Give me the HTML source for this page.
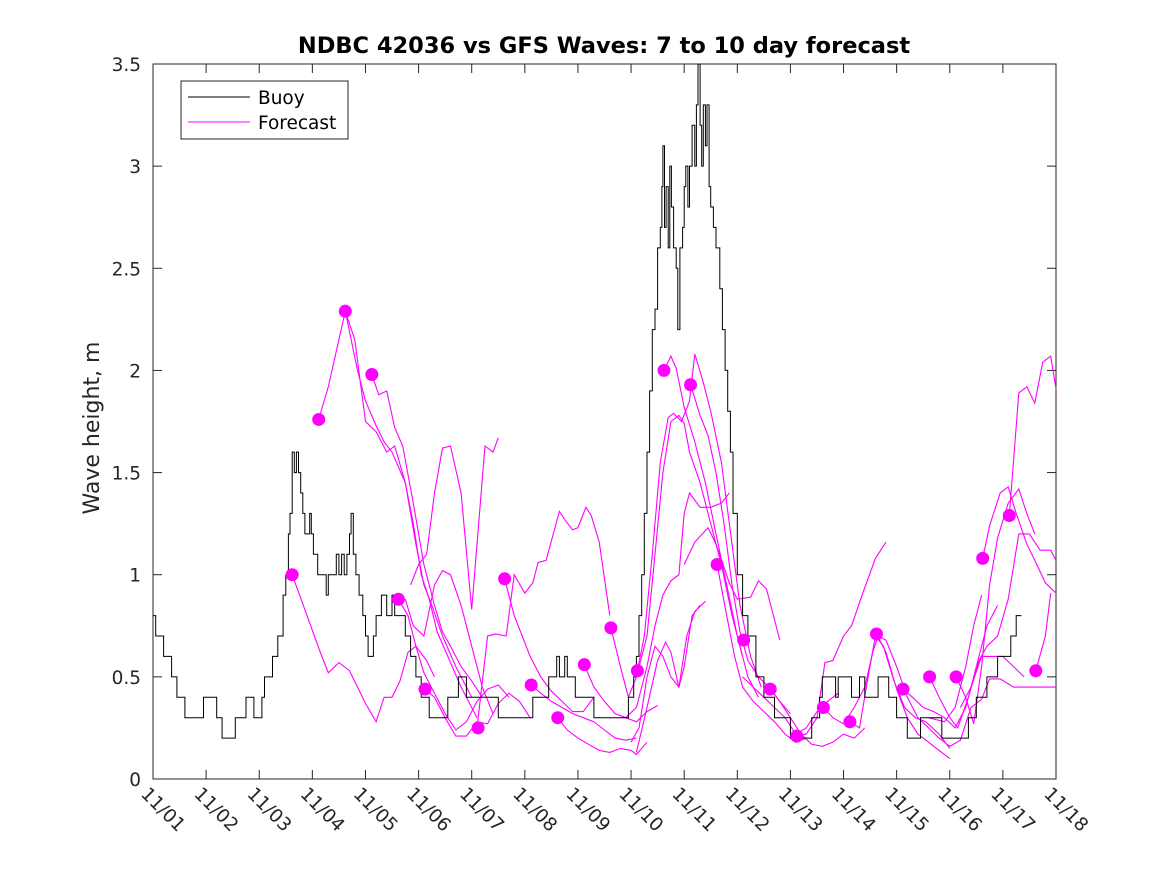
<!DOCTYPE html>
<html><head><meta charset="utf-8"><style>
html,body{margin:0;padding:0;background:#fff;}
svg{display:block;font-family:"DejaVu Sans","Liberation Sans",sans-serif;}
</style></head><body>
<svg id="chart" width="1167" height="875" viewBox="0 0 1167 875" xmlns="http://www.w3.org/2000/svg">
<rect x="0" y="0" width="1167" height="875" fill="#fff"/>
<text x="604" y="53" text-anchor="middle" font-size="22.5" font-weight="bold" fill="#000">NDBC 42036 vs GFS Waves: 7 to 10 day forecast</text>
<text transform="translate(99,428) rotate(-90)" text-anchor="middle" font-size="22" fill="#262626">Wave height, m</text>
<g id="plot"></g>
</svg>
<script>
const xTickLabels = ["11/01","11/02","11/03","11/04","11/05","11/06","11/07","11/08","11/09","11/10","11/11","11/12","11/13","11/14","11/15","11/16","11/17","11/18"];
const yTickValues = [0,0.5,1,1.5,2,2.5,3,3.5];
const yTickLabels = ["0","0.5","1","1.5","2","2.5","3","3.5"];
const buoyDays = [0,0.05,0.2,0.35,0.45,0.55,0.6,0.9,0.95,1.15,1.2,1.3,1.55,1.75,1.9,2.0,2.05,2.1,2.25,2.35,2.45,2.5,2.55,2.58,2.62,2.66,2.7,2.74,2.78,2.82,2.86,2.9,2.95,2.98,3.02,3.1,3.2,3.26,3.3,3.45,3.5,3.55,3.6,3.65,3.7,3.73,3.77,3.82,3.88,3.95,4.0,4.05,4.15,4.2,4.3,4.4,4.5,4.55,4.65,4.75,4.85,4.95,5.05,5.2,5.5,5.55,5.75,5.9,6.3,6.5,7.0,7.15,7.45,7.6,7.65,7.75,7.8,7.95,8.05,8.3,8.9,8.95,9.05,9.1,9.15,9.2,9.25,9.3,9.35,9.4,9.45,9.5,9.55,9.58,9.6,9.63,9.66,9.7,9.73,9.76,9.8,9.85,9.88,9.92,9.97,10.0,10.03,10.07,10.1,10.15,10.2,10.23,10.26,10.3,10.33,10.36,10.4,10.43,10.47,10.5,10.55,10.6,10.67,10.72,10.77,10.82,10.87,10.92,11.0,11.1,11.2,11.35,11.5,11.7,11.9,12.0,12.3,12.4,12.55,12.6,12.85,12.9,13.15,13.3,13.4,13.65,13.85,14.0,14.2,14.45,14.7,14.85,15.2,15.35,15.5,15.7,15.9,16.15,16.25,16.35];
const buoyValues = [0.8,0.7,0.6,0.5,0.4,0.4,0.3,0.3,0.4,0.4,0.3,0.2,0.3,0.4,0.3,0.3,0.4,0.5,0.6,0.7,0.9,1.0,1.2,1.3,1.6,1.5,1.6,1.5,1.4,1.3,1.2,1.2,1.3,1.2,1.1,1.0,1.0,0.9,1.0,1.1,1.0,1.1,1.0,1.1,1.2,1.3,1.1,1.0,0.9,0.8,0.7,0.6,0.7,0.8,0.9,0.8,0.9,0.8,0.8,0.7,0.6,0.5,0.4,0.3,0.3,0.4,0.5,0.4,0.4,0.3,0.3,0.4,0.5,0.6,0.5,0.6,0.5,0.4,0.4,0.3,0.3,0.4,0.5,0.6,0.8,1.0,1.3,1.6,1.9,2.2,2.3,2.6,2.7,2.9,3.1,2.7,2.9,2.6,3.0,2.8,2.6,2.5,2.2,2.6,2.7,2.9,3.0,2.8,3.0,3.2,3.0,3.3,3.5,3.2,3.0,3.3,3.1,3.3,2.9,2.8,2.7,2.6,2.4,2.2,2.0,1.8,1.6,1.3,1.0,0.8,0.7,0.5,0.4,0.3,0.3,0.2,0.2,0.3,0.4,0.5,0.4,0.5,0.4,0.5,0.4,0.5,0.4,0.3,0.2,0.3,0.3,0.2,0.2,0.3,0.4,0.5,0.6,0.7,0.8,0.8];
const dotDays = [2.62,3.12,3.62,4.12,4.62,5.12,6.12,6.62,7.12,7.62,8.12,8.62,9.12,9.62,10.12,10.62,11.12,11.62,12.12,12.62,13.12,13.62,14.12,14.62,15.12,15.62,16.12,16.62];
const dotValues = [1.0,1.76,2.29,1.98,0.88,0.44,0.25,0.98,0.46,0.30,0.56,0.74,0.53,2.0,1.93,1.05,0.68,0.44,0.21,0.35,0.28,0.71,0.44,0.50,0.50,1.08,1.29,0.53];
const fcDays = [
[2.62,2.9,3.15,3.3,3.5,3.7,4.0,4.2,4.35,4.5,4.65,4.8,4.95,5.15,5.3],
[3.12,3.3,3.62,3.8,4.0,4.2,4.4,4.55,4.75,4.95,5.1,5.25,5.45,5.7,6.0],
[3.62,3.85,4.0,4.2,4.35,4.5,4.75,4.9,5.05,5.2,5.35,5.55,5.8,6.1],
[4.12,4.25,4.4,4.55,4.7,4.9,5.1,5.3,5.45,5.6,5.8,6.0,6.2],
[4.85,5.0,5.15,5.3,5.45,5.6,5.8,6.0,6.25,6.4,6.5],
[4.75,4.9,5.1,5.3,5.45,5.6,5.8,6.0,6.2,6.4],
[4.62,4.8,4.95,5.1,5.3,5.5,5.7,5.9,6.1,6.3,6.5,6.7],
[5.12,5.3,5.5,5.7,5.9,6.1,6.3,6.5,6.7,6.9,7.1],
[6.62,6.8,6.95,7.1,7.3,7.5,7.7,7.9,8.1,8.3],
[6.1,6.3,6.45,6.65,6.8,7.0,7.15,7.25,7.4,7.65,7.75,7.9,8.0,8.15,8.25,8.4,8.6],
[7.12,7.3,7.5,7.7,7.9,8.1,8.3,8.5,8.7,8.9,9.1],
[7.62,7.8,8.0,8.2,8.4,8.6,8.8,9.0,9.1,9.3],
[8.12,8.3,8.5,8.7,8.9,9.1,9.3,9.5],
[8.62,8.8,8.95,9.1,9.3,9.45,9.6,9.75,9.9,10.0,10.1,10.3,10.5,10.7,10.9,11.1],
[9.12,9.25,9.4,9.55,9.7,9.8,9.95,10.1,10.2,10.35,10.5,10.7,10.9,11.05,11.25,11.45],
[9.62,9.75,9.85,10.0,10.2,10.4,10.6,10.8,11.0,11.2,11.4],
[10.12,10.3,10.45,10.6,10.75,10.9,11.05,11.2,11.4,11.6,11.8,12.0],
[8.9,9.1,9.3,9.45,9.6,9.75,9.9,10.0,10.1,10.3,10.5,10.7,10.85],
[9.0,9.15,9.3,9.45,9.6,9.75,9.9,10.0,10.15,10.3],
[9.1,9.3,9.5,9.65,9.75,9.9,10.05,10.2,10.4],
[10.62,10.8,10.95,11.1,11.3,11.5,11.7,11.9,12.1,12.3],
[10.0,10.2,10.45,10.6,10.85,11.0,11.25,11.4,11.55,11.8],
[11.1,11.3,11.5,11.7,11.9,12.1,12.3,12.5,12.7,12.9],
[11.62,11.8,12.0,12.2,12.4,12.6,12.8,13.0,13.2,13.4],
[12.12,12.3,12.5,12.65,12.8,13.0,13.15,13.35,13.6,13.8],
[12.62,12.8,13.0,13.2,13.4,13.55,13.65,13.8,14.0,14.2,14.4,14.6,14.8],
[13.12,13.3,13.45,13.6,13.75,13.95,14.15,14.35,14.55,14.8,15.0],
[13.62,13.8,14.0,14.2,14.4,14.6,14.8,15.0],
[14.12,14.3,14.5,14.7,14.9,15.1,15.3,15.5,15.7,15.9],
[14.62,14.8,15.0,15.15,15.35,15.55,15.7,15.9,16.1,16.3,16.5,16.7,16.9,17.0],
[15.12,15.3,15.45,15.6,15.75,15.9,16.1,16.3,16.45,16.6],
[15.62,15.75,15.95,16.1,16.25,16.45,16.6,16.8,17.0],
[16.12,16.3,16.45,16.6,16.75,16.9,17.0],
[16.62,16.8,16.9],
[15.2,15.4,15.6,15.8,16.0,16.2,16.4],
[14.8,15.0,15.2,15.4,15.6,15.75,15.95,16.2,16.4,17.0],
[14.6,14.9,15.1,15.3,15.45,15.6]
];
const fcValues = [
[1.0,0.8,0.62,0.52,0.57,0.53,0.37,0.28,0.40,0.40,0.48,0.62,0.65,0.58,0.50],
[1.76,1.92,2.29,2.15,1.75,1.70,1.60,1.63,1.45,1.15,0.95,0.85,0.70,0.55,0.40],
[2.29,2.0,1.85,1.73,1.65,1.60,1.45,1.25,1.0,0.88,0.72,0.6,0.45,0.30],
[1.98,1.88,1.90,1.72,1.63,1.35,1.05,0.85,0.72,0.65,0.55,0.48,0.40],
[0.95,1.05,1.10,1.40,1.62,1.63,1.40,0.83,1.63,1.60,1.67],
[0.88,0.75,0.70,0.95,1.02,1.0,0.85,0.65,0.45,0.32],
[0.88,0.80,0.65,0.52,0.42,0.32,0.24,0.28,0.38,0.44,0.46,0.40],
[0.44,0.40,0.30,0.21,0.21,0.28,0.27,0.37,0.42,0.38,0.30],
[0.98,0.80,0.70,0.60,0.50,0.43,0.38,0.33,0.33,0.40],
[0.25,0.70,0.71,0.70,1.0,0.91,0.96,1.06,1.07,1.31,1.27,1.22,1.23,1.33,1.29,1.16,0.80],
[0.46,0.42,0.38,0.35,0.32,0.30,0.28,0.24,0.20,0.19,0.20],
[0.30,0.24,0.20,0.17,0.14,0.13,0.15,0.14,0.12,0.18],
[0.56,0.45,0.38,0.32,0.30,0.28,0.33,0.36],
[0.74,0.55,0.40,0.50,0.70,1.10,1.50,1.75,1.78,1.74,1.60,1.45,1.25,1.05,0.80,0.60],
[0.53,0.70,1.10,1.55,1.77,1.79,1.75,1.85,2.08,1.95,1.80,1.55,1.15,0.85,0.60,0.45],
[2.0,2.07,2.01,1.82,1.65,1.45,1.20,0.95,0.70,0.50,0.40],
[1.93,1.78,1.68,1.50,1.25,0.95,0.72,0.58,0.50,0.45,0.38,0.32],
[0.30,0.35,0.55,0.75,0.90,0.97,1.0,1.30,1.40,1.33,1.33,1.35,1.40],
[0.18,0.25,0.50,0.65,0.60,0.50,0.45,0.55,0.80,0.85],
[0.13,0.35,0.58,0.67,0.62,0.45,0.70,0.82,0.87],
[1.05,0.80,0.60,0.45,0.38,0.33,0.28,0.22,0.18,0.20],
[1.05,1.16,1.23,1.15,0.96,0.88,0.89,0.97,0.93,0.68],
[0.50,0.45,0.40,0.35,0.30,0.22,0.25,0.33,0.38,0.42],
[0.44,0.38,0.30,0.22,0.17,0.16,0.18,0.22,0.20,0.25],
[0.21,0.22,0.30,0.57,0.58,0.70,0.75,0.90,1.08,1.16],
[0.35,0.30,0.27,0.35,0.45,0.62,0.70,0.68,0.55,0.40,0.30,0.25,0.20],
[0.28,0.25,0.48,0.70,0.65,0.48,0.35,0.30,0.28,0.22,0.15],
[0.71,0.62,0.44,0.30,0.22,0.18,0.14,0.10],
[0.44,0.40,0.35,0.33,0.30,0.25,0.35,0.55,0.75,0.85],
[0.50,0.40,0.30,0.25,0.40,0.58,0.65,0.70,0.88,1.20,1.20,1.12,1.12,1.07],
[0.50,0.40,0.27,0.55,0.95,1.18,1.35,1.42,1.30,1.20],
[1.08,1.24,1.40,1.43,1.30,1.15,1.07,0.96,0.91],
[1.29,1.89,1.92,1.84,2.04,2.07,1.91],
[0.53,0.70,0.91],
[0.35,0.45,0.60,0.60,0.60,0.55,0.50],
[0.20,0.16,0.19,0.35,0.39,0.49,0.49,0.45,0.45,0.45],
[0.30,0.28,0.35,0.55,0.75,0.90]
];

const X0=153, X1=1056, Y0=779, Y1=64, DMAX=17, VMAX=3.5;
const xs = d => X0 + d*(X1-X0)/DMAX;
const ys = v => Y0 - v*(Y0-Y1)/VMAX;
const NS="http://www.w3.org/2000/svg";
const plot=document.getElementById('plot');
function mk(tag,attrs,parent){const e=document.createElementNS(NS,tag);for(const k in attrs)e.setAttribute(k,attrs[k]);(parent||plot).appendChild(e);return e;}

const box=mk('rect',{x:X0,y:Y1,width:X1-X0,height:Y0-Y1,fill:'none',stroke:'#262626','stroke-width':1});



xTickLabels.forEach((lab,i)=>{
  const x=xs(i);
  const t1=mk('line',{x1:x,y1:Y0,x2:x,y2:Y0-9,stroke:'#262626'});
  
  
  const t2=mk('line',{x1:x,y1:Y1,x2:x,y2:Y1+9,stroke:'#262626'});
  
  
  const tx=mk('text',{transform:`translate(${x-13},${Y0+16}) rotate(45)`,'font-size':18.5,fill:'#262626'});
  tx.textContent=lab;
  
  
});
yTickValues.forEach((v,i)=>{
  const y=ys(v);
  const t1=mk('line',{x1:X0,y1:y,x2:X0+9,y2:y,stroke:'#262626'});
  
  
  const t2=mk('line',{x1:X1,y1:y,x2:X1-9,y2:y,stroke:'#262626'});
  
  
  const tx=mk('text',{x:X0-12,y:y+7,'text-anchor':'end','font-size':18.5,fill:'#262626'});
  tx.textContent=yTickLabels[i];
  
  
});

fcDays.forEach((ds,i)=>{
  const pts=ds.map((d,j)=>xs(d).toFixed(1)+','+ys(fcValues[i][j]).toFixed(1)).join(' ');
  const pl=mk('polyline',{points:pts,fill:'none',stroke:'#ff00ff','stroke-width':1.1});
  
  
});
let bp=[];
buoyDays.forEach((d,i)=>{
  if(i>0) bp.push(xs(d).toFixed(1)+','+ys(buoyValues[i-1]).toFixed(1));
  bp.push(xs(d).toFixed(1)+','+ys(buoyValues[i]).toFixed(1));
});
const bl=mk('polyline',{points:bp.join(' '),fill:'none',stroke:'#000','stroke-width':1});


dotDays.forEach((d,i)=>{
  const c=mk('circle',{cx:xs(d),cy:ys(dotValues[i]),r:6.5,fill:'#ff00ff'});
  
  
});
const lg=mk('g',{});


mk('rect',{x:181,y:81,width:167,height:58,fill:'#fff',stroke:'#262626','stroke-width':1},lg);
const l1=mk('line',{x1:188,y1:97,x2:250,y2:97,stroke:'#000'},lg);


const lt1=mk('text',{x:258,y:104,'font-size':18.5,fill:'#000'},lg);
lt1.textContent='Buoy';


const l2=mk('line',{x1:188,y1:122,x2:250,y2:122,stroke:'#ff00ff'},lg);


const lt2=mk('text',{x:258,y:129,'font-size':18.5,fill:'#000'},lg);
lt2.textContent='Forecast';


</script>
</body></html>
